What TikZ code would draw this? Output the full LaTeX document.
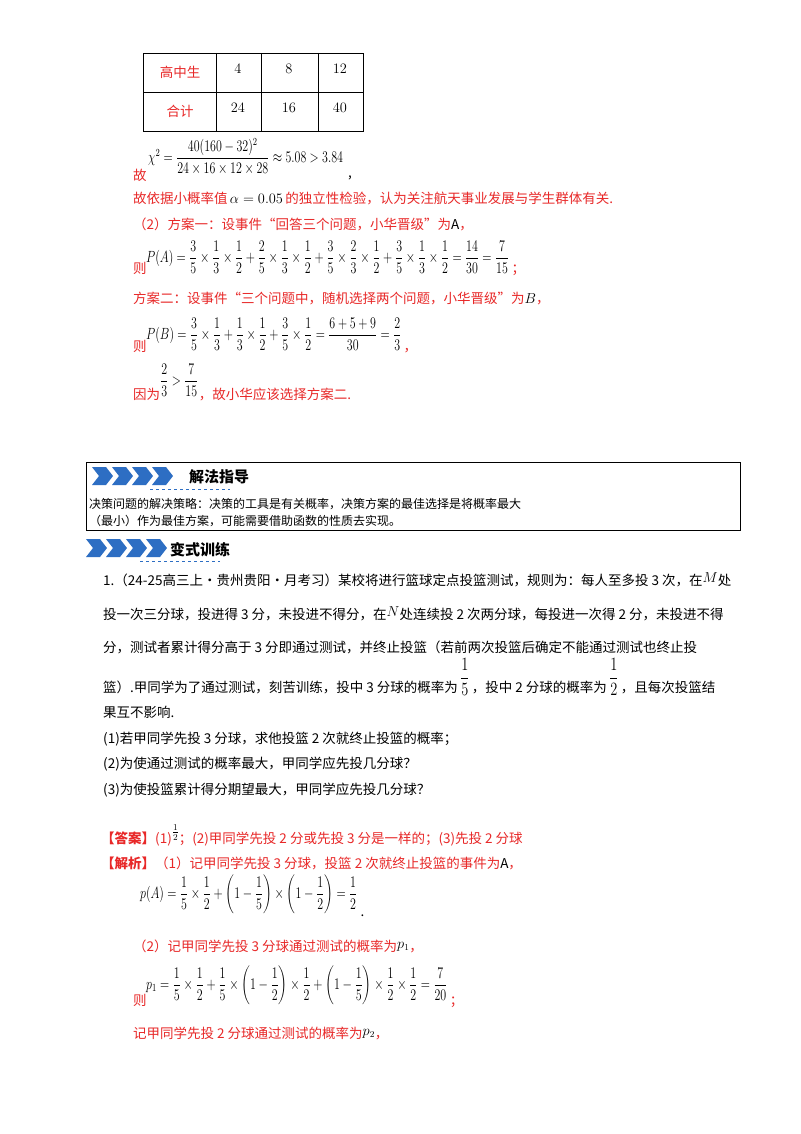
\documentclass[tikz,border=0pt]{standalone}
\usepackage{amsmath}
\usepackage{graphicx}
\usepackage{fontspec}
\setmainfont{Noto Sans CJK SC}
\definecolor{rd}{RGB}{232,40,40}
\definecolor{bl}{RGB}{45,110,195}
\tikzset{
 t/.style={anchor=base west,inner sep=0pt,font=\fontsize{13.5}{16}\selectfont},
 r/.style={t,text=rd},
 k/.style={t,text=black},
 fm/.style={anchor=west,inner sep=0pt,text=black,font=\fontsize{12}{14}\selectfont},
}
\newcommand{\tall}[1]{\scalebox{1}[1.35]{#1}}
\newcommand{\upfr}[2]{\raisebox{9pt}{\scalebox{1}[1.3]{$\dfrac{#1}{#2}$}}}
\newcommand{\chevrons}[2]{%
 \foreach \i in {0,...,3}{\fill[bl] ({#1+\i*20},{#2-9}) -- ++(14,0) -- ++(7,9) -- ++(-7,9) -- ++(-14,0) -- ++(7,-9) -- cycle;}}
\begin{document}
\begin{tikzpicture}[x=1pt,y=-1pt]
\useasboundingbox (0,0) rectangle (800,1134);
\fill[white] (0,0) rectangle (800,1134);
% table
\draw[line width=0.9pt] (143,53) rectangle (363,131);
\draw[line width=0.9pt] (143,92)--(363,92) (216,53)--(216,131) (261,53)--(261,131) (318,53)--(318,131);
\node[r,anchor=center] (c11) at (180,72) {高中生};
\node[k,anchor=center] (c12) at (238,69) {$4$};
\node[k,anchor=center] (c13) at (289,69) {$8$};
\node[k,anchor=center] (c14) at (340,69) {$12$};
\node[r,anchor=center] (c21) at (180,111) {合计};
\node[k,anchor=center] (c22) at (238,108) {$24$};
\node[k,anchor=center] (c23) at (289,108) {$16$};
\node[k,anchor=center] (c24) at (340,108) {$40$};
\node[r] (g1) at (133,181) {故};
\node[fm] (chi) at (148,157) {\tall{$\chi^2=\dfrac{40(160-32)^2}{24\times16\times12\times28}\approx5.08>3.84$}};
\node[k] (cm1) at (348,178) {,};
\node[r] (l2) at (133,204) {故依据小概率值\,\textcolor{black}{$\alpha=0.05$}\,的独立性检验，认为关注航天事业发展与学生群体有关.};
\node[r] (l3) at (133,229) {（2）方案一：设事件“回答三个问题，小华晋级”为\textcolor{black}{A}，};
\node[r] (z1) at (133,273) {则};
\node[fm] (pa) at (146,257) {\tall{$P(A)=\dfrac35\times\dfrac13\times\dfrac12+\dfrac25\times\dfrac13\times\dfrac12+\dfrac35\times\dfrac23\times\dfrac12+\dfrac35\times\dfrac13\times\dfrac12=\dfrac{14}{30}=\dfrac7{15}$}};
\node[r,anchor=base west] (s1) at ([xshift=2pt]pa.east |- z1.base) {；};
\node[r] (l4) at (133,303) {方案二：设事件“三个问题中，随机选择两个问题，小华晋级”为\textcolor{black}{$B$}，};
\node[r] (z2) at (133,351) {则};
\node[fm] (pb) at (146,334) {\tall{$P(B)=\dfrac35\times\dfrac13+\dfrac13\times\dfrac12+\dfrac35\times\dfrac12=\dfrac{6+5+9}{30}=\dfrac23$}};
\node[r,anchor=base west] (s2) at ([xshift=2pt]pb.east |- z2.base) {，};
\node[r] (l5) at (133,399) {因为};
\node[fm] (ineq) at (160,380) {\tall{$\dfrac23>\dfrac7{15}$}};
\node[r,anchor=base west] (l5b) at (ineq.east |- l5.base) {，故小华应该选择方案二.};
% box
\draw[line width=0.8pt] (86,462) rectangle (740,530);
\chevrons{92}{476}
\node[k,font=\fontsize{15}{17}\selectfont\bfseries] (h1) at (189,482) {解法指导};
\draw[bl,dashed,line width=1pt] (150,489)--(230,489);
\node[k,font=\fontsize{12}{14}\selectfont] (b1) at (89,508) {决策问题的解决策略：决策的工具是有关概率，决策方案的最佳选择是将概率最大};
\node[k,font=\fontsize{12}{14}\selectfont] (b2) at (89,525) {（最小）作为最佳方案，可能需要借助函数的性质去实现。};
\chevrons{86}{548}
\node[k,font=\fontsize{15}{17}\selectfont\bfseries] (h2) at (170,555) {变式训练};
\draw[bl,dashed,line width=1pt] (140,561)--(220,561);
% problem
\node[k] (p1) at (103,585) {1.（24-25高三上·贵州贵阳·月考习）某校将进行篮球定点投篮测试，规则为：每人至多投 3 次，在\raisebox{3pt}{$M$}处};
\node[k] (p2) at (103,619) {投一次三分球，投进得 3 分，未投进不得分，在\raisebox{3pt}{$N$}处连续投 2 次两分球，每投进一次得 2 分，未投进不得};
\node[k] (p3) at (103,652) {分，测试者累计得分高于 3 分即通过测试，并终止投篮（若前两次投篮后确定不能通过测试也终止投};
\node[k] (p4) at (103,692) {篮）.甲同学为了通过测试，刻苦训练，投中 3 分球的概率为\,\upfr15\,，投中 2 分球的概率为\,\upfr12\,，且每次投篮结};
\node[k] (p5) at (103,717) {果互不影响.};
\node[k] (q1) at (103,743) {(1)若甲同学先投 3 分球，求他投篮 2 次就终止投篮的概率；};
\node[k] (q2) at (103,768) {(2)为使通过测试的概率最大，甲同学应先投几分球？};
\node[k] (q3) at (103,794) {(3)为使投篮累计得分期望最大，甲同学应先投几分球？};
\node[r] (ans) at (101,843) {\textbf{【答案】}(1)\textcolor{black}{\raisebox{7pt}{$\frac12$}}；(2)甲同学先投 2 分或先投 3 分是一样的；(3)先投 2 分球};
\node[r] (jx) at (101,868) {\textbf{【解析】}（1）记甲同学先投 3 分球，投篮 2 次就终止投篮的事件为\textcolor{black}{A}，};
\node[fm] (fa) at (140,894) {\tall{$p(A)=\dfrac15\times\dfrac12+\left(1-\dfrac15\right)\times\left(1-\dfrac12\right)=\dfrac12$}};
\node[k,anchor=base west] (d1) at ([xshift=3pt]fa.east |- 0,916) {.};
\node[r] (l6) at (133,951) {（2）记甲同学先投 3 分球通过测试的概率为\textcolor{black}{\raisebox{3pt}{$p_1$}}，};
\node[r] (z3) at (133,1005) {则};
\node[fm] (fp1) at (146,985) {\tall{$p_1=\dfrac15\times\dfrac12+\dfrac15\times\left(1-\dfrac12\right)\times\dfrac12+\left(1-\dfrac15\right)\times\dfrac12\times\dfrac12=\dfrac7{20}$}};
\node[r,anchor=base west] (s3) at ([xshift=2pt]fp1.east |- z3.base) {；};
\node[r] (l7) at (133,1038) {记甲同学先投 2 分球通过测试的概率为\textcolor{black}{\raisebox{3pt}{$p_2$}}，};
\end{tikzpicture}
\end{document}
